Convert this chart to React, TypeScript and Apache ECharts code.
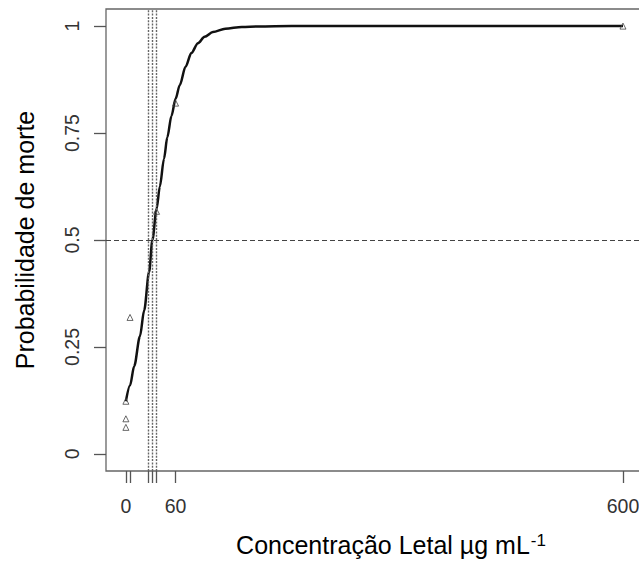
import React, { useEffect, useRef } from "react";
import * as echarts from "echarts";

// Observed points (concentration, proportion dead)
const obsX = [0, 0, 0, 5, 37, 60, 600];
const obsY = [0.123, 0.082, 0.062, 0.319, 0.567, 0.82, 1.0];

// Fitted curve
const curveX = [0, 5, 10, 17, 22, 28, 32, 37, 41, 46, 50, 55, 60, 65, 72, 79, 87, 95, 105, 120, 140, 160, 200, 300, 600];
const curveY = [0.123, 0.16, 0.205, 0.275, 0.335, 0.425, 0.5, 0.572, 0.625, 0.69, 0.74, 0.79, 0.83, 0.862, 0.905, 0.937, 0.96, 0.975, 0.986, 0.994, 0.998, 0.999, 1.0, 1.0, 1.0];

// LC50 and its interval (vertical dotted lines)
const lcValues = [27, 32, 37];
const halfLine = 0.5;

// Axis ticks and labels
const xTicks = [0, 5, 27, 32, 37, 60, 600];
const xLabels = [0, 60, 600];
const yTicks = [0, 0.25, 0.5, 0.75, 1];

const FONT = "'Liberation Sans', Arial, sans-serif";

export default function App() {
  const ref = useRef<HTMLDivElement>(null);
  useEffect(() => {
    if (!ref.current) return;
    const chart = echarts.init(ref.current, undefined, { renderer: "svg" });
    const curve = curveX.map((x, i) => [x, curveY[i]]);
    const pts = obsX.map((x, i) => [x, obsY[i]]);
    chart.setOption({
      animation: false,
      backgroundColor: "#ffffff",
      textStyle: { fontFamily: FONT },
      grid: {
        left: 106,
        top: 9,
        width: 570,
        height: 462,
        show: true,
        borderColor: "#666",
        borderWidth: 1.3,
        containLabel: false,
        outerBoundsMode: "none",
      },
      xAxis: {
        type: "value",
        min: -24,
        max: 664,
        splitLine: { show: false },
        axisLine: { show: false, onZero: false },
        axisTick: {
          show: true,
          inside: false,
          length: 12,
          customValues: xTicks,
          lineStyle: { color: "#555", width: 1.3 },
        },
        axisLabel: {
          customValues: xLabels,
          fontSize: 19.5,
          color: "#333",
          margin: 25,
          fontFamily: FONT,
        },
        name: "{a|Concentração Letal µg mL}{s|-1}",
        nameLocation: "middle",
        nameGap: 61,
        nameTextStyle: {
          fontFamily: FONT,
          color: "#000",
          fontSize: 25,
          rich: {
            a: { fontSize: 25, color: "#000", fontFamily: FONT },
            s: { fontSize: 17, color: "#000", fontFamily: FONT, verticalAlign: "top", padding: [0, 0, 0, 1] },
          },
        },
      },
      yAxis: {
        type: "value",
        min: -0.04,
        max: 1.04,
        splitLine: { show: false },
        axisLine: { show: false, onZero: false },
        axisTick: {
          show: true,
          inside: false,
          length: 12,
          customValues: yTicks,
          lineStyle: { color: "#555", width: 1.3 },
        },
        axisLabel: {
          customValues: yTicks,
          rotate: 90,
          fontSize: 19.5,
          color: "#333",
          margin: 24,
          fontFamily: FONT,
        },
        name: "Probabilidade de morte",
        nameLocation: "middle",
        nameRotate: 90,
        nameGap: 69,
        nameTextStyle: { fontFamily: FONT, color: "#000", fontSize: 25 },
      },
      series: [
        {
          type: "line",
          data: curve,
          showSymbol: false,
          symbol: "none",
          smooth: 0.3,
          smoothMonotone: "x",
          lineStyle: { color: "#111", width: 2.5 },
          z: 3,
          markLine: {
            silent: true,
            symbol: "none",
            label: { show: false },
            data: [
              ...lcValues.map((v) => ({
                xAxis: v,
                lineStyle: { color: "#666", width: 1.4, type: [2, 1.3] },
              })),
              { yAxis: halfLine, lineStyle: { color: "#444", width: 1.1, type: [5, 3] } },
            ],
          },
        },
        {
          type: "scatter",
          data: pts,
          symbol: "triangle",
          symbolSize: 6,
          itemStyle: { color: "rgba(0,0,0,0)", borderColor: "#444", borderWidth: 1 },
          z: 4,
        },
      ],
    });
    return () => chart.dispose();
  }, []);
  return (
    <div
      ref={ref}
      style={{ width: 639, height: 561, position: "absolute", left: 0, top: 0 }}
    />
  );
}
